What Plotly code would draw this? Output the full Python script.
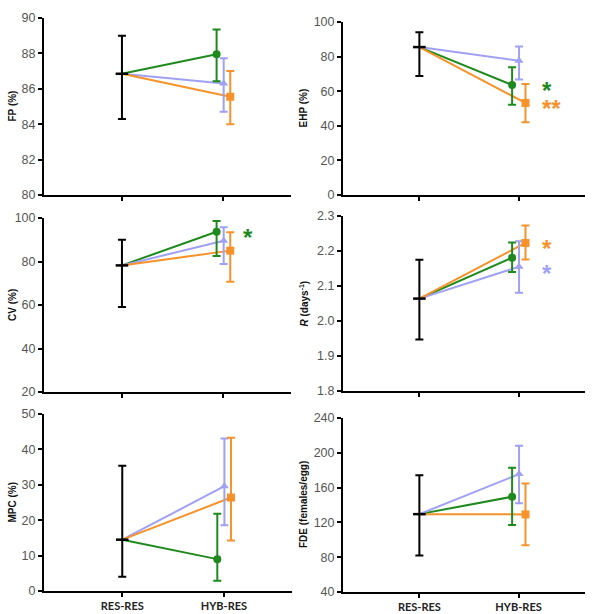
import plotly.graph_objects as go

GREEN = '#1e8a1e'
ORANGE = '#f7922a'
BLUE = '#a0a0f4'
BLACK = '#000000'

groups = ['RES-RES', 'HYB-RES']
series = ['green', 'blue', 'orange']

# per panel: RES-RES mean, upper, lower; HYB-RES mean/upper/lower per series
titles = ['FP (%)', 'EHP (%)', 'CV (%)', '<i>R</i> (days<sup>-1</sup>)', 'MPC (%)', 'FDE (females/egg)']

res_mean = [86.85, 85.5, 78.2, 2.064, 14.5, 129.5]
res_hi = [89.0, 94.1, 90.0, 2.175, 35.4, 174.2]
res_lo = [84.3, 68.8, 59.1, 1.947, 4.0, 81.9]

green_mean = [87.95, 63.6, 93.7, 2.181, 9.0, 149.5]
green_hi = [89.35, 73.9, 98.6, 2.224, 21.8, 182.7]
green_lo = [86.43, 52.1, 82.5, 2.140, 2.9, 116.9]

blue_mean = [86.3, 77.6, 89.5, 2.155, 29.6, 175.5]
blue_hi = [87.73, 85.8, 95.8, 2.228, 43.1, 208.0]
blue_lo = [84.7, 66.7, 78.8, 2.081, 18.6, 141.9]

orange_mean = [85.55, 53.2, 85.0, 2.223, 26.4, 129.2]
orange_hi = [87.0, 64.2, 93.5, 2.273, 43.3, 164.6]
orange_lo = [84.0, 42.0, 70.7, 2.176, 14.3, 93.8]

y_ranges = [(80, 90, 2), (0, 100, 20), (20, 100, 20), (1.8, 2.3, 0.1), (0, 50, 10), (40, 240, 40)]

# significance stars: (panel, y value, text, colour)
stars = [(1, 63.6, '*', GREEN), (1, 53.2, '**', ORANGE), (2, 93.7, '*', GREEN),
         (3, 2.223, '*', ORANGE), (3, 2.153, '*', BLUE)]

dodge = {'green': -0.065, 'blue': 0.005, 'orange': 0.07}
colors = {'green': GREEN, 'blue': BLUE, 'orange': ORANGE}
symbols = {'green': 'circle', 'blue': 'triangle-up', 'orange': 'square'}
values = {'green': (green_mean, green_hi, green_lo),
          'blue': (blue_mean, blue_hi, blue_lo),
          'orange': (orange_mean, orange_hi, orange_lo)}

W, H = 600, 614
# panel boxes in pixels (left, right, top, bottom)
boxes = [(44, 291, 18, 195), (343, 585, 22, 195),
         (44, 291, 218, 392), (343, 585, 216, 391),
         (44, 292, 414, 591), (343, 585, 418, 592)]

fig = go.Figure()
TICKFONT = dict(family='Liberation Sans, Arial', size=12.5, color='#555555')

for i in range(6):
    ax = '' if i == 0 else str(i + 1)
    xa, ya = 'x' + ax, 'y' + ax
    l, r, t, b = boxes[i]
    lo_r, hi_r, dt = y_ranges[i]
    fig.update_layout({
        'xaxis' + ax: dict(domain=[l / W, r / W], range=[-0.77, 1.67], anchor=ya,
                           tickvals=[0, 1], ticktext=groups, showticklabels=i >= 4,
                           showline=True, linecolor='black', linewidth=2, automargin=False,
                           ticks='outside', ticklen=4, tickwidth=1.5, tickcolor='black',
                           showgrid=False, zeroline=False,
                           tickfont=dict(family='Lato, Open Sans', size=11, color='#222222',
                                         weight='bold')),
        'yaxis' + ax: dict(domain=[1 - b / H, 1 - t / H], range=[lo_r, hi_r], anchor=xa,
                           dtick=dt, tick0=lo_r, showline=True, linecolor='black', linewidth=2,
                           ticks='outside', ticklen=4, tickwidth=1.5, tickcolor='black',
                           showgrid=False, zeroline=False, tickfont=TICKFONT, automargin=False,
                           tickformat='.1f' if i == 3 else None),
    })

    # lines from RES-RES to each HYB-RES point
    for s in series:
        m, hi, lo = values[s]
        fig.add_trace(go.Scatter(
            x=[0, 1 + dodge[s]], y=[res_mean[i], m[i]], mode='lines',
            line=dict(color=colors[s], width=2), xaxis=xa, yaxis=ya,
            showlegend=False, hoverinfo='skip'))

    # RES-RES common start
    fig.add_trace(go.Scatter(
        x=[0], y=[res_mean[i]], mode='markers',
        marker=dict(symbol='line-ew', size=9, line=dict(color=BLACK, width=2.5)),
        error_y=dict(type='data', symmetric=False, array=[res_hi[i] - res_mean[i]],
                     arrayminus=[res_mean[i] - res_lo[i]], color=BLACK, thickness=2, width=4),
        xaxis=xa, yaxis=ya, showlegend=False))

    for s in series:
        m, hi, lo = values[s]
        fig.add_trace(go.Scatter(
            x=[1 + dodge[s]], y=[m[i]], mode='markers',
            marker=dict(symbol=symbols[s], size=8, color=colors[s]),
            error_y=dict(type='data', symmetric=False, array=[hi[i] - m[i]],
                         arrayminus=[m[i] - lo[i]], color=colors[s], thickness=2, width=4),
            xaxis=xa, yaxis=ya, showlegend=False))

    # y axis title
    fig.add_annotation(
        text=titles[i], textangle=-90, showarrow=False,
        x=(12 if i % 2 == 0 else 303) / W, xref='paper', xanchor='center',
        y=1 - (t + b) / 2 / H, yref='paper', yanchor='middle',
        font=dict(family='Liberation Sans, Arial', size=10, color='#111111', weight='bold'))

for p, yv, txt, col in stars:
    ax = '' if p == 0 else str(p + 1)
    fig.add_annotation(
        text=txt, x=1.28 if p % 2 else 1.235, y=yv, xref='x' + ax, yref='y' + ax,
        xanchor='left', xshift=-6, showarrow=False, yshift=-6,
        font=dict(family='Liberation Sans, Arial', size=24, color=col, weight='bold'))

fig.update_layout(width=W, height=H, margin=dict(l=0, r=0, t=0, b=0),
                  plot_bgcolor='white', paper_bgcolor='white')

fig.write_html('out.html', config={'displayModeBar': False},
               post_script="document.body.style.margin='0';")
